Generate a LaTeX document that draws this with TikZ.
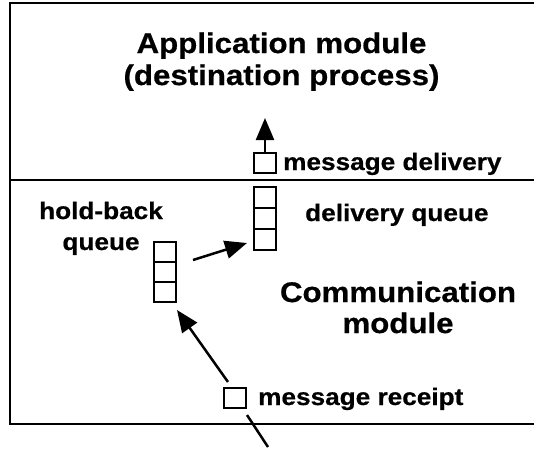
\documentclass[tikz,border=0pt]{standalone}
\usepackage{fontspec}
\newfontfamily\lab{Liberation Sans}[FakeStretch=1.1,BoldFeatures={FakeBold=0.6}]
\usetikzlibrary{arrows.meta}
\begin{document}
\begin{tikzpicture}[x=1pt,y=-1pt,
 cell/.style={draw,line width=1.8pt,minimum width=22pt,minimum height=20pt,inner sep=0pt,outer sep=0pt},
 big/.style={font=\lab\bfseries\fontsize{28.4}{34}\selectfont,inner sep=0pt},
 small/.style={font=\lab\bfseries\fontsize{23.8}{28}\selectfont,inner sep=0pt},
 frame/.style={line width=2.5pt},
 arr/.style={line width=2.5pt,-{Triangle[length=22pt,width=18pt]}},
 plain/.style={line width=2.5pt}
]
\useasboundingbox (0,0) rectangle (534,450);
% frame
\draw[frame] (534,3) -- (10,3) -- (10,424) -- (534,424);
\draw[frame] (10,180) -- (534,180);
% titles
\node[big,anchor=base] (t1) at (281.5,53) {Application module};
\node[big,anchor=base] (t2) at (281.5,85) {(destination process)};
\node[big,anchor=base] (c1) at (398,302) {Communication};
\node[big,anchor=base] (c2) at (398,333) {module};
% hold-back label
\node[small,anchor=base] (h1) at (101,219) {hold-back};
\node[small,anchor=base] (h2) at (101,250) {queue};
% boxes
\node[cell] (md) at (265,163) {};
\node[cell,minimum height=21pt] (dq1) at (265,197.5) {};
\node[cell,minimum height=21pt] (dq2) at (265,218.5) {};
\node[cell,minimum height=21pt] (dq3) at (265,239.5) {};
\node[cell] (hb1) at (165,252) {};
\node[cell] (hb2) at (165,272) {};
\node[cell] (hb3) at (165,292) {};
\node[cell] (mr) at (235,398) {};
% labels
\node[small,anchor=base west] (mdl) at (283,170) {message delivery};
\node[small,anchor=base west] (dql) at (305,221) {delivery queue};
\node[small,anchor=base west] (mrl) at (258,405) {message receipt};
% connectors
\coordinate (dtip) at (265,118);
\draw[arr] (md.north) -- (dtip);
\coordinate (hbout) at (193,260);
\coordinate (dqin) at (247,243);
\draw[arr] (hbout) -- (dqin);
\coordinate (mrout) at (228,382);
\coordinate (hbin) at (177,310);
\draw[arr] (mrout) -- (hbin);
\coordinate (inA) at (247,415);
\coordinate (inB) at (268,447);
\draw[plain] (inA) -- (inB);
\end{tikzpicture}
\end{document}
